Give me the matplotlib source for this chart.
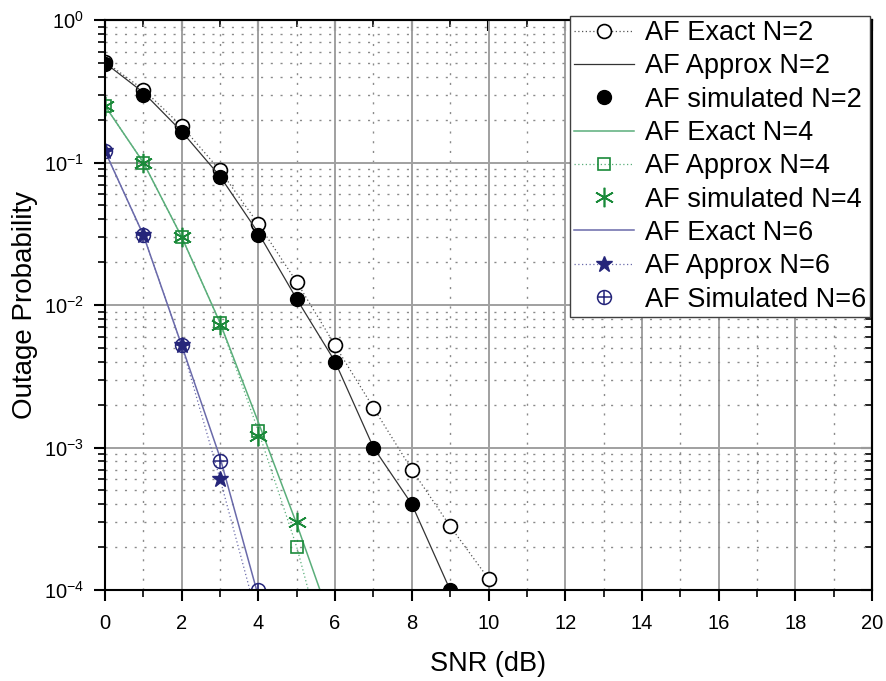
import matplotlib
matplotlib.use("Agg")
import matplotlib.pyplot as plt
from matplotlib.ticker import MultipleLocator, LogLocator, NullFormatter

plt.rcParams['font.family'] = ['Liberation Sans', 'DejaVu Sans']
plt.rcParams['mathtext.fontset'] = 'custom'
plt.rcParams['mathtext.rm'] = 'Liberation Sans'
plt.rcParams['mathtext.it'] = 'Liberation Sans:italic'

# SNR axis (dB)
snr_n2_exact = [0, 1, 2, 3, 4, 5, 6, 7, 8, 9, 10]
snr_n2 = [0, 1, 2, 3, 4, 5, 6, 7, 8, 9]
snr_n4_line = [0, 1, 2, 3, 4, 5, 6]
snr_n4_sim = [0, 1, 2, 3, 4, 5]
snr_n6 = [0, 1, 2, 3, 4]

# Outage probability, N = 2
af_exact_n2 = [0.51, 0.325, 0.18, 0.088, 0.037, 0.0145, 0.0052, 0.0019, 0.0007, 0.00028, 0.00012]
af_approx_n2 = [0.50, 0.31, 0.165, 0.080, 0.032, 0.011, 0.0040, 0.0010, 0.0004, 0.0001]
af_sim_n2 = [0.49, 0.30, 0.165, 0.079, 0.031, 0.011, 0.0040, 0.0010, 0.0004, 0.0001]

# Outage probability, N = 4
af_exact_n4 = [0.25, 0.10, 0.030, 0.0075, 0.0015, 0.00029, 0.00005]
af_approx_n4 = [0.25, 0.10, 0.030, 0.0075, 0.0013, 0.0002, 0.00002]
af_sim_n4 = [0.25, 0.10, 0.030, 0.0072, 0.0012, 0.0003]

# Outage probability, N = 6
af_exact_n6 = [0.12, 0.031, 0.0052, 0.00085, 0.00009]
af_approx_n6 = [0.12, 0.031, 0.0052, 0.0006, 0.00006]
af_sim_n6 = [0.12, 0.031, 0.0052, 0.0008, 0.0001]

labels = ["AF Exact N=2", "AF Approx N=2", "AF simulated N=2",
          "AF Exact N=4", "AF Approx N=4", "AF simulated N=4",
          "AF Exact N=6", "AF Approx N=6", "AF Simulated N=6"]

black = "#000000"
green = "#1a8a3a"
green_line = "#5aae7a"
navy = "#25257a"
navy_line = "#6a6aaa"

fig = plt.figure(figsize=(8.86, 6.81), dpi=100)
ax = fig.add_axes([105 / 886, 91 / 681, 767 / 886, 570 / 681])
ax.set_yscale('log')
ax.set_xlim(0, 20)
ax.set_ylim(1e-4, 1)

# grid: solid major lines, sparse dotted minor lines
ax.grid(True, which='major', color='#a0a0a0', linewidth=1.4, linestyle='-')
ax.grid(True, which='minor', color='#8a8a8a', linewidth=1.0, linestyle=(0, (1.5, 5.5)))
ax.set_axisbelow(True)

h = []
h.append(ax.plot(snr_n2_exact, af_exact_n2, linestyle=(0, (1, 2)), color='#555555', lw=0.9,
                 marker='o', ms=10, mfc='white', mec=black, mew=1.2)[0])
h.append(ax.plot(snr_n2, af_approx_n2, '-', color='#333333', lw=0.9)[0])
h.append(ax.plot(snr_n2, af_sim_n2, linestyle='none', marker='o', ms=10, color=black)[0])
h.append(ax.plot(snr_n4_line, af_exact_n4, '-', color=green_line, lw=1.1)[0])
h.append(ax.plot(snr_n4_line, af_approx_n4, linestyle=(0, (1, 2)), color=green_line, lw=0.9,
                 marker='s', ms=9, mfc='none', mec=green, mew=1.2)[0])
h.append(ax.plot(snr_n4_sim, af_sim_n4, linestyle='none', marker=(6, 2, 0), ms=14,
                 mec=green, mew=1.2)[0])
h.append(ax.plot(snr_n6, af_exact_n6, '-', color=navy_line, lw=1.1)[0])
h.append(ax.plot(snr_n6, af_approx_n6, linestyle=(0, (1, 2)), color=navy_line, lw=0.9,
                 marker='*', ms=12, mfc=navy, mec=navy)[0])
s6a = ax.plot(snr_n6, af_sim_n6, linestyle='none', marker='o', ms=10, mfc='none',
              mec=navy, mew=1.1)[0]
s6b = ax.plot(snr_n6, af_sim_n6, linestyle='none', marker='+', ms=10, mec=navy, mew=1.1)[0]
h.append((s6a, s6b))

# ticks: outward on left/bottom, inward mirrors on top/right
ax.xaxis.set_major_locator(MultipleLocator(2))
ax.xaxis.set_minor_locator(MultipleLocator(1))
ax.yaxis.set_major_locator(LogLocator(base=10, numticks=10))
ax.yaxis.set_minor_locator(LogLocator(base=10, subs=range(2, 10), numticks=10))
ax.yaxis.set_minor_formatter(NullFormatter())
ax.tick_params(which='major', direction='out', length=8, width=1.5, labelsize=14.5)
ax.tick_params(axis='x', which='major', pad=9)
ax.tick_params(axis='y', which='major', pad=7)
ax.tick_params(which='minor', direction='out', length=5, width=1.2)
for sp in ax.spines.values():
    sp.set_linewidth(1.5)

top = ax.secondary_xaxis('top')
top.xaxis.set_major_locator(MultipleLocator(2))
top.xaxis.set_minor_locator(MultipleLocator(1))
top.tick_params(which='major', direction='in', length=8, width=1.5, labeltop=False)
top.tick_params(which='minor', direction='in', length=5, width=1.2)
top.spines['top'].set_linewidth(1.5)

right = ax.secondary_yaxis('right')
right.yaxis.set_major_locator(LogLocator(base=10, numticks=10))
right.yaxis.set_minor_locator(LogLocator(base=10, subs=range(2, 10), numticks=10))
right.tick_params(which='major', direction='in', length=8, width=1.5, labelright=False)
right.tick_params(which='minor', direction='in', length=5, width=1.2, labelright=False)
right.yaxis.set_minor_formatter(NullFormatter())
right.spines['right'].set_linewidth(1.5)

ax.set_xlabel("SNR (dB)", fontsize=19.5, labelpad=13)
ax.set_ylabel("Outage Probability", fontsize=20, labelpad=4)

leg = ax.legend(h, labels, loc='upper right', bbox_to_anchor=(870 / 886, 665 / 681),
                bbox_transform=fig.transFigure, borderaxespad=0, fontsize=19.5,
                fancybox=False, framealpha=1, edgecolor='#404040', handlelength=2.2,
                handletextpad=0.4, labelspacing=0.27, borderpad=0.15)
leg.get_frame().set_linewidth(1.0)

fig.savefig("out.png", dpi=100)
